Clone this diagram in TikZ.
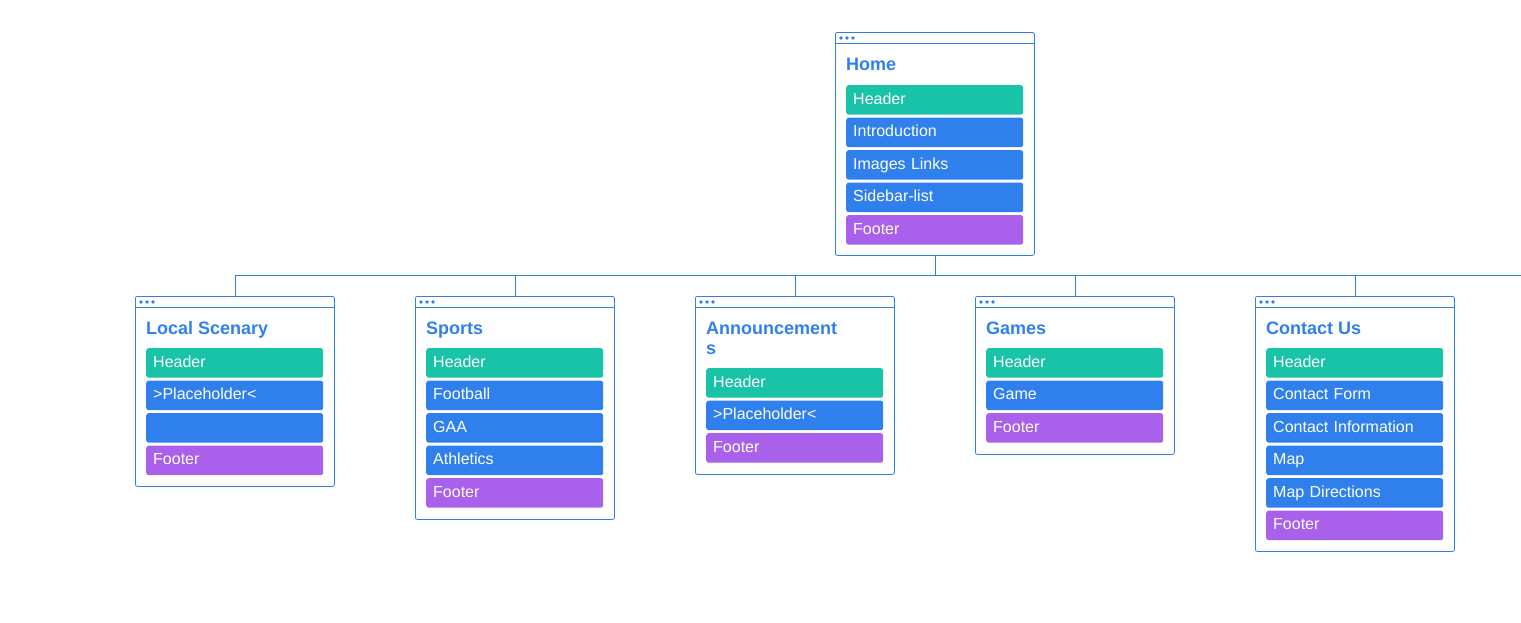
\documentclass[tikz,border=0pt]{standalone}
\usepackage{fontspec}
\setmainfont{Liberation Sans}
\usetikzlibrary{positioning}
\definecolor{pageblue}{HTML}{2F80ED}
\definecolor{headgreen}{HTML}{19C3A8}
\definecolor{footpurple}{HTML}{A960EA}
\tikzstyle{page} = [draw=pageblue, line width=0.8pt, rounded corners=2pt, minimum width=199pt, anchor=north west, inner sep=0pt]
\tikzstyle{title} = [anchor=north west, inner sep=0pt, text=pageblue, align=left, font=\fontsize{18}{20}\selectfont\bfseries]
\tikzstyle{part} = [rounded corners=2.5pt, minimum width=177pt, minimum height=29.5pt, text width=163pt, inner xsep=7pt, inner ysep=0pt, text height=11.5pt, text depth=2.5pt, align=left, text=white, font=\fontsize{16}{18}\selectfont]
\tikzstyle{head} = [part, fill=headgreen]
\tikzstyle{body} = [part, fill=pageblue]
\tikzstyle{foot} = [part, fill=footpurple]
\tikzstyle{link} = [draw=pageblue, line width=0.8pt]

\begin{document}
\begin{tikzpicture}[x=1pt, y=-1pt, node distance=2.6pt]
\useasboundingbox (0,0) rectangle (1521,622);

% pages
\node (home) [page, minimum height=223pt] at (835,32) {};
\node (ls) [page, minimum height=190pt] at (135,296) {};
\node (sp) [page, minimum height=223pt] at (415,296) {};
\node (an) [page, minimum height=178pt] at (695,296) {};
\node (ga) [page, minimum height=158pt] at (975,296) {};
\node (cu) [page, minimum height=255pt] at (1255,296) {};

\foreach \p in {home,ls,sp,an,ga,cu} {
  \draw [link] ([yshift=-11.5pt]\p.north west) -- ([yshift=-11.5pt]\p.north east);
  \foreach \d in {6,12,18}
    \fill [pageblue] ([xshift=\d pt, yshift=-6pt]\p.north west) circle (1.8pt);
}

% home
\node (homeT) [title, xshift=11pt, yshift=-25.5pt] at (home.north west) {Home};
\node (h1) [head, anchor=north west, xshift=11pt, yshift=-53pt] at (home.north west) {Header};
\node (h2) [body, below=of h1] {Introduction};
\node (h3) [body, below=of h2] {Images Links};
\node (h4) [body, below=of h3] {Sidebar-list};
\node (h5) [foot, below=of h4] {Footer};

% local scenary
\node (lsT) [title, xshift=11pt, yshift=-25.5pt] at (ls.north west) {Local Scenary};
\node (ls1) [head, anchor=north west, xshift=11pt, yshift=-52pt] at (ls.north west) {Header};
\node (ls2) [body, below=of ls1] {>Placeholder<};
\node (ls3) [body, below=of ls2] {};
\node (ls4) [foot, below=of ls3] {Footer};

% sports
\node (spT) [title, xshift=11pt, yshift=-25.5pt] at (sp.north west) {Sports};
\node (sp1) [head, anchor=north west, xshift=11pt, yshift=-52pt] at (sp.north west) {Header};
\node (sp2) [body, below=of sp1] {Football};
\node (sp3) [body, below=of sp2] {GAA};
\node (sp4) [body, below=of sp3] {Athletics};
\node (sp5) [foot, below=of sp4] {Footer};

% announcements
\node (anT) [title, xshift=11pt, yshift=-25.5pt] at (an.north west) {Announcement\\s};
\node (an1) [head, anchor=north west, xshift=11pt, yshift=-72pt] at (an.north west) {Header};
\node (an2) [body, below=of an1] {>Placeholder<};
\node (an3) [foot, below=of an2] {Footer};

% games
\node (gaT) [title, xshift=11pt, yshift=-25.5pt] at (ga.north west) {Games};
\node (ga1) [head, anchor=north west, xshift=11pt, yshift=-52pt] at (ga.north west) {Header};
\node (ga2) [body, below=of ga1] {Game};
\node (ga3) [foot, below=of ga2] {Footer};

% contact us
\node (cuT) [title, xshift=11pt, yshift=-25.5pt] at (cu.north west) {Contact Us};
\node (cu1) [head, anchor=north west, xshift=11pt, yshift=-52pt] at (cu.north west) {Header};
\node (cu2) [body, below=of cu1] {Contact Form};
\node (cu3) [body, below=of cu2] {Contact Information};
\node (cu4) [body, below=of cu3] {Map};
\node (cu5) [body, below=of cu4] {Map Directions};
\node (cu6) [foot, below=of cu5] {Footer};

% tree
\coordinate (busend) at (1521,275);
\foreach \c in {ls,sp,an,ga,cu}
  \draw [link] (home.south) -- ++(0,20) -| (\c.north);
\draw [link] (cu.north |- busend) -- (busend);
\end{tikzpicture}
\end{document}
